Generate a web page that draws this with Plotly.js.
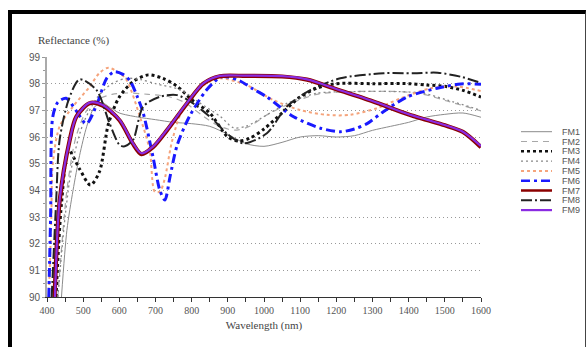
<!DOCTYPE html>
<html><head><meta charset="utf-8">
<script src="https://cdn.plot.ly/plotly-3.0.1.min.js"></script>
<style>
html,body{margin:0;padding:0;background:#fff;}
#wrap{position:relative;width:586px;height:347px;overflow:hidden;}
#chart{position:absolute;left:0;top:0;width:586px;height:347px;}
#frame{position:absolute;left:8px;top:10px;width:578px;height:400px;box-sizing:border-box;border-left:4px solid #000;border-top:4px solid #000;border-right:1.5px solid #444;pointer-events:none;z-index:10;}
</style></head>
<body><div id="wrap"><div id="chart"></div><div id="frame"></div></div>
<script>
// ---- data ----
const seriesNames = ["FM1","FM2","FM3","FM4","FM5","FM6","FM7","FM8","FM9"];

const fm1_x = [440,455,472,490,510,530,550,575,600,650,700,750,800,850,900,950,1000,1050,1100,1150,1200,1250,1300,1350,1400,1450,1500,1550,1600];
const fm1_y = [90,92.5,94.0,95.3,96.4,97.1,97.3,97.1,96.9,96.75,96.65,96.55,96.5,96.4,96.1,95.75,95.65,95.8,96.0,96.05,96.0,96.05,96.25,96.4,96.55,96.75,96.85,96.9,96.74];

const fm2_x = [430,455,480,510,540,580,620,680,740,780,830,870,900,925,960,1008,1063,1146,1238,1377,1441,1506,1600];
const fm2_y = [90,94.0,96.0,97.0,97.4,97.6,97.65,97.6,97.5,97.3,96.8,96.45,96.3,96.26,96.4,96.83,97.2,97.6,97.7,97.7,97.6,97.35,96.98];

const fm3_x = [425,440,460,490,520,545,570,600,640,680,720,760,800,850,900,930,960,1000,1050,1100,1150,1200,1300,1400,1450,1500,1550,1600];
const fm3_y = [90,93.5,95.5,94.8,94.2,94.7,96.5,97.5,98.1,98.33,98.2,97.9,97.4,96.9,96.0,95.85,95.95,96.3,96.9,97.5,97.85,98.0,98.0,98.0,97.95,97.9,97.75,97.5];

const fm4_x = [430,450,470,500,540,580,620,660,700,770,820,880,915,950,1008,1063,1146,1238,1377,1441,1506,1600];
const fm4_y = [90,93.0,95.0,96.5,97.5,98.0,98.2,98.15,98.0,97.76,97.3,96.76,96.35,96.4,96.83,97.26,97.64,97.7,97.7,97.64,97.39,97.0];

const fm5_x = [405,412,416,435,472,518,545,570,600,620,657,684,698,712,725,745,770,800,840,878,952,1025,1100,1174,1238,1312,1378,1461,1535,1600];
const fm5_y = [90,93,95.0,96.4,97.14,97.89,98.4,98.6,98.4,98.14,96.76,95.51,93.95,93.95,94.4,95.8,96.9,97.5,98.0,98.2,97.95,97.39,97.01,96.83,96.83,97.08,97.45,97.83,97.89,97.72];

const fm6_x = [405,410,416,430,453,480,509,540,565,587,610,630,650,666,693,712,726,740,760,795,841,880,900,934,970,1008,1082,1156,1212,1250,1285,1330,1396,1479,1544,1600];
const fm6_y = [90,93,96.76,97.3,97.45,97.0,96.5,97.3,98.2,98.45,98.35,98.1,97.5,96.9,95.26,94.0,93.64,94.5,95.7,96.8,97.76,98.25,98.25,98.1,97.8,97.5,96.76,96.33,96.2,96.3,96.5,96.95,97.5,97.83,97.99,97.98];

const fm7_x = [421,435,463,481,518,554,601,637,661,693,731,786,832,878,950,1050,1119,1200,1300,1400,1450,1500,1550,1600];
const fm7_y = [90,93.6,95.9,96.76,97.27,97.18,96.62,95.76,95.36,95.62,96.24,97.24,98.0,98.28,98.29,98.27,98.15,97.79,97.34,96.84,96.64,96.44,96.19,95.62];

const fm8_x = [413,425,435,460,490,537,573,601,615,638,666,712,760,804,860,900,943,1008,1063,1128,1211,1331,1414,1480,1544,1600];
const fm8_y = [90,93.5,95.9,97.4,98.16,97.76,96.51,95.7,95.65,95.89,97.14,97.51,97.57,97.26,96.64,96.1,95.76,96.14,97.14,97.76,98.2,98.39,98.39,98.41,98.26,98.03];

const fm9_x = [422,435,463,481,518,554,601,637,661,693,731,786,832,878,950,1050,1119,1200,1300,1400,1450,1500,1550,1600];
const fm9_y = [90,93.64,95.9,96.76,97.29,97.2,96.64,95.78,95.39,95.64,96.26,97.26,98.01,98.29,98.3,98.28,98.16,97.8,97.35,96.85,96.65,96.45,96.2,95.66];

const xTickVals = [400,500,600,700,800,900,1000,1100,1200,1300,1400,1500,1600];
const yTickVals = [90,91,92,93,94,95,96,97,98,99];

// ---- styles ----
const styles = [
  {color:"#8c8c8c", width:1,   dash:"solid"},
  {color:"#a8a8a8", width:1.2, dash:"6px,5px"},
  {color:"#111111", width:3,   dash:"dot"},
  {color:"#888888", width:1.3, dash:"2px,3px"},
  {color:"#f5a47c", width:2,   dash:"dot"},
  {color:"#1a1aff", width:3,   dash:"9px,4px,3px,4px"},
  {color:"#8b0000", width:4.2, dash:"solid"},
  {color:"#222222", width:2,   dash:"11px,3px,2px,3px"},
  {color:"#8a2be2", width:2.2, dash:"solid"}
];
const xs = [fm1_x,fm2_x,fm3_x,fm4_x,fm5_x,fm6_x,fm7_x,fm8_x,fm9_x];
const ys = [fm1_y,fm2_y,fm3_y,fm4_y,fm5_y,fm6_y,fm7_y,fm8_y,fm9_y];

const traces = seriesNames.map((n,i)=>({
  type:"scatter", mode:"lines", name:n, x:xs[i], y:ys[i],
  line:{color:styles[i].color, width:styles[i].width, dash:styles[i].dash, shape:"spline", smoothing:0.8},
  cliponaxis:true, showlegend:false
}));

// plot area in pixels
const L=47, R=481, T=57, B=297;
const px2x = p => (p-L)/(R-L);
const px2y = p => (B-p)/(B-T);

// manual compact legend
const shapes=[], annotations=[];
seriesNames.forEach((n,i)=>{
  const yy = px2y(131.7 + i*9.8);
  shapes.push({type:"line", xref:"paper", yref:"paper", x0:px2x(521), x1:px2x(552), y0:yy, y1:yy,
    line:{color:styles[i].color, width:Math.min(styles[i].width,2.5), dash:styles[i].dash}});
  annotations.push({xref:"paper", yref:"paper", x:px2x(560), y:yy, xanchor:"left", yanchor:"middle",
    text:n, showarrow:false, font:{family:"Liberation Sans, Arial, sans-serif", size:9, color:"#555"}});
});
annotations.push({xref:"paper", yref:"paper", x:px2x(36), y:px2y(40), xanchor:"left", yanchor:"middle",
  text:"Reflectance (%)", showarrow:false, font:{family:"Liberation Serif, serif", size:11, color:"#444"}});

const layout = {
  width:586, height:347,
  margin:{l:L, r:586-R, t:T, b:347-B, pad:0},
  paper_bgcolor:"#fff", plot_bgcolor:"#fff",
  showlegend:false,
  xaxis:{range:[400,1600], tickvals:xTickVals, ticks:"outside", ticklen:4, tickcolor:"#333", tickwidth:1,
    showline:true, linecolor:"#333", linewidth:1, showgrid:false, zeroline:false,
    minor:{dtick:50, tick0:400, ticks:"outside", ticklen:4, tickcolor:"#333", showgrid:false},
    tickfont:{family:"Liberation Serif, serif", size:10, color:"#555"},
    title:{text:"Wavelength (nm)", standoff:6, font:{family:"Liberation Serif, serif", size:11, color:"#444"}}},
  yaxis:{range:[90,99], tickvals:yTickVals, ticks:"outside", ticklen:3, tickcolor:"#999", tickwidth:1,
    showline:true, linecolor:"#aaa", linewidth:2, zeroline:false,
    showgrid:true, gridcolor:"#999", gridwidth:1, griddash:"1px,3px",
    minor:{dtick:0.5, ticks:"outside", ticklen:2, tickcolor:"#999", showgrid:false},
    tickfont:{family:"Liberation Sans, Arial, sans-serif", size:10, color:"#555"}},
  shapes:shapes, annotations:annotations
};
Plotly.newPlot("chart", traces, layout, {staticPlot:true, displayModeBar:false});
</script></body></html>
